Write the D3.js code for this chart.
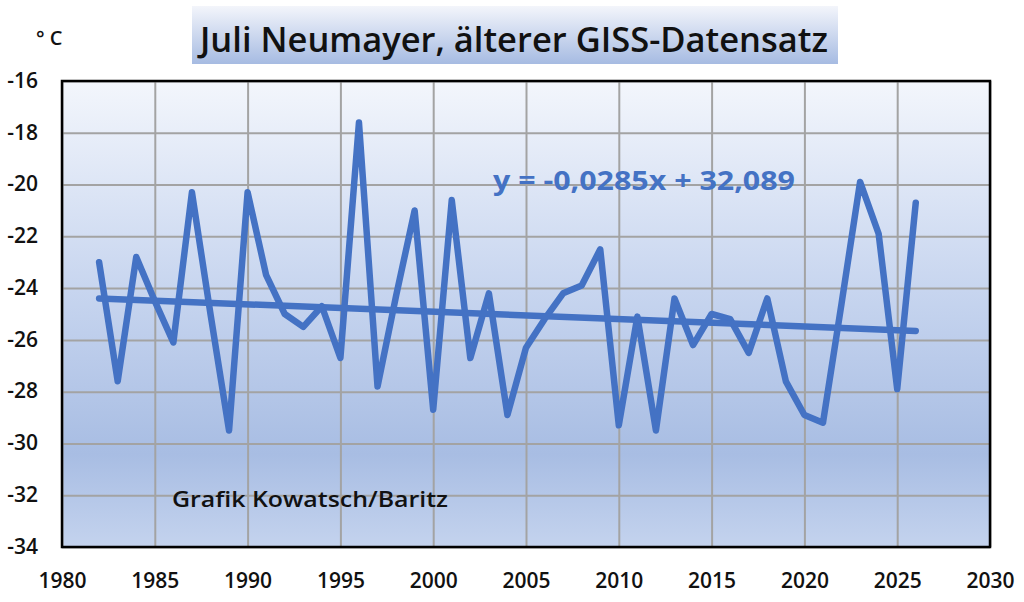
<!DOCTYPE html>
<html>
<head>
<meta charset="utf-8">
<script src="https://cdn.jsdelivr.net/npm/d3@7/dist/d3.min.js"></script>
<style>
  body { margin: 0; background: #ffffff; }
  svg { display: block; }
  text { font-family: "Open Sans", "DejaVu Sans", sans-serif; }
</style>
</head>
<body>
<div id="vis"></div>
<script>
// July mean temperature, Neumayer station, older GISS data set
var years = [1982, 1983, 1984, 1985, 1986, 1987, 1988, 1989, 1990, 1991,
             1992, 1993, 1994, 1995, 1996, 1997, 1998, 1999, 2000, 2001,
             2002, 2003, 2004, 2005, 2006, 2007, 2008, 2009, 2010, 2011,
             2012, 2013, 2014, 2015, 2016, 2017, 2018, 2019, 2020, 2021,
             2022, 2023, 2024, 2025, 2026];
var temps = [-23.0, -27.6, -22.8, -24.5, -26.1, -20.3, -25.0, -29.5, -20.3, -23.5,
             -25.0, -25.5, -24.7, -26.7, -17.6, -27.8, -24.3, -21.0, -28.7, -20.6,
             -26.7, -24.2, -28.9, -26.3, -25.2, -24.2, -23.9, -22.5, -29.3, -25.1,
             -29.5, -24.4, -26.2, -25.0, -25.2, -26.5, -24.4, -27.6, -28.9, -29.2,
             -24.6, -19.9, -21.9, -27.9, -20.7];

// linear trend as printed on the chart
var trendSlope = [-0.0285];
var trendIntercept = [32.089];
var trendLabel = ["y = -0,0285x + 32,089"];

var yearTicks = [1980, 1985, 1990, 1995, 2000, 2005, 2010, 2015, 2020, 2025, 2030];
var tempTicks = [-34, -32, -30, -28, -26, -24, -22, -20, -18, -16];

var titleText = ["Juli Neumayer, älterer GISS-Datensatz"];
var unitText = ["° C"];
var creditText = ["Grafik Kowatsch/Baritz"];

var m_width = 1024;
var m_height = 602;
var m_plot = { left: 62, right: 990, top: 81, bottom: 547 };
var m_blue = "#4472c4";

function OnReady()
{
    var svg = d3.select("#vis").append("svg")
        .attr("width", m_width)
        .attr("height", m_height);

    var defs = svg.append("defs");

    var plotGrad = defs.append("linearGradient")
        .attr("id", "plotGrad")
        .attr("x1", 0).attr("y1", 0).attr("x2", 0).attr("y2", 1);
    plotGrad.append("stop").attr("offset", "0%").attr("stop-color", "#f3f6fc");
    plotGrad.append("stop").attr("offset", "45%").attr("stop-color", "#c7d5ef");
    plotGrad.append("stop").attr("offset", "80%").attr("stop-color", "#a8bde3");
    plotGrad.append("stop").attr("offset", "100%").attr("stop-color", "#c4d3ee");

    var titleGrad = defs.append("linearGradient")
        .attr("id", "titleGrad")
        .attr("x1", 0).attr("y1", 0).attr("x2", 0).attr("y2", 1);
    titleGrad.append("stop").attr("offset", "0%").attr("stop-color", "#f3f5fb");
    titleGrad.append("stop").attr("offset", "100%").attr("stop-color", "#a6bbe2");

    var x = d3.scaleLinear()
        .domain([yearTicks[0], yearTicks[yearTicks.length - 1]])
        .range([m_plot.left, m_plot.right]);

    var y = d3.scaleLinear()
        .domain([tempTicks[0], tempTicks[tempTicks.length - 1]])
        .range([m_plot.bottom, m_plot.top]);

    var plotW = m_plot.right - m_plot.left;
    var plotH = m_plot.bottom - m_plot.top;

    // plot background
    svg.append("rect")
        .attr("x", m_plot.left)
        .attr("y", m_plot.top)
        .attr("width", plotW)
        .attr("height", plotH)
        .attr("fill", "url(#plotGrad)");

    // grid lines
    svg.append("g")
        .attr("class", "grid")
        .attr("transform", "translate(0," + m_plot.bottom + ")")
        .call(d3.axisBottom(x).tickValues(yearTicks).tickSize(-plotH).tickFormat(""));
    svg.append("g")
        .attr("class", "grid")
        .attr("transform", "translate(" + m_plot.left + ",0)")
        .call(d3.axisLeft(y).tickValues(tempTicks).tickSize(-plotW).tickFormat(""));
    svg.selectAll(".grid .domain").remove();
    svg.selectAll(".grid line")
        .attr("stroke", "#a3a3a3")
        .attr("stroke-width", 2);

    // tick labels (plain hyphen for the minus sign, as in the original)
    var plain = function(d) { return String(d); };
    var axisX = svg.append("g")
        .attr("transform", "translate(0," + m_plot.bottom + ")")
        .call(d3.axisBottom(x).tickValues(yearTicks).tickSize(0).tickPadding(26).tickFormat(plain));
    var axisY = svg.append("g")
        .attr("transform", "translate(" + m_plot.left + ",0)")
        .call(d3.axisLeft(y).tickValues(tempTicks).tickSize(0).tickPadding(24).tickFormat(plain));
    axisX.select(".domain").remove();
    axisY.select(".domain").remove();
    svg.selectAll(".tick text")
        .attr("fill", "#111111")
        .style("font-family", "'Open Sans', sans-serif")
        .style("font-size", "21px")
        .style("font-weight", "600");
    axisY.selectAll(".tick text").attr("dy", "0.3em");

    // frame
    svg.append("rect")
        .attr("x", m_plot.left)
        .attr("y", m_plot.top)
        .attr("width", plotW)
        .attr("height", plotH)
        .attr("fill", "none")
        .attr("stroke", "#000000")
        .attr("stroke-width", 2.5);

    // data line
    var points = years.map(function(d, i) { return [d, temps[i]]; });
    var line = d3.line()
        .x(function(d) { return x(d[0]); })
        .y(function(d) { return y(d[1]); });

    svg.append("path")
        .datum(points)
        .attr("d", line)
        .attr("fill", "none")
        .attr("stroke", m_blue)
        .attr("stroke-width", 6.5)
        .attr("stroke-linejoin", "round")
        .attr("stroke-linecap", "round");

    // trend line
    var x0 = years[0];
    var x1 = years[years.length - 1];
    var trend = [
        [x0, trendSlope[0] * x0 + trendIntercept[0]],
        [x1, trendSlope[0] * x1 + trendIntercept[0]]
    ];
    svg.append("path")
        .datum(trend)
        .attr("d", line)
        .attr("fill", "none")
        .attr("stroke", m_blue)
        .attr("stroke-width", 6.5)
        .attr("stroke-linecap", "round");

    // trend equation
    svg.append("text")
        .attr("x", 493)
        .attr("y", 190)
        .attr("fill", m_blue)
        .attr("textLength", 302)
        .attr("lengthAdjust", "spacingAndGlyphs")
        .style("font-size", "26px")
        .style("font-weight", "700")
        .text(trendLabel[0]);

    // credit
    svg.append("text")
        .attr("x", 172)
        .attr("y", 507)
        .attr("fill", "#111111")
        .attr("textLength", 276)
        .attr("lengthAdjust", "spacingAndGlyphs")
        .style("font-size", "21px")
        .style("font-weight", "600")
        .text(creditText[0]);

    // title box
    svg.append("rect")
        .attr("x", 192)
        .attr("y", 6)
        .attr("width", 646)
        .attr("height", 58)
        .attr("fill", "url(#titleGrad)");
    svg.append("text")
        .attr("x", 200)
        .attr("y", 52)
        .attr("fill", "#111111")
        .attr("textLength", 628)
        .attr("lengthAdjust", "spacingAndGlyphs")
        .style("font-size", "34px")
        .style("font-weight", "600")
        .text(titleText[0]);

    // unit label
    svg.append("text")
        .attr("x", 36)
        .attr("y", 45)
        .attr("fill", "#111111")
        .style("font-size", "20px")
        .style("font-weight", "600")
        .text(unitText[0]);
}

document.addEventListener("DOMContentLoaded", OnReady);
</script>
</body>
</html>
